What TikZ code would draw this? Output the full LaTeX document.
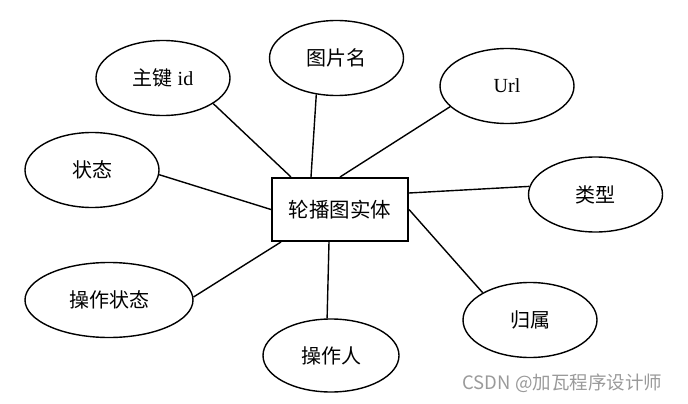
\documentclass[tikz,border=0pt]{standalone}
\usepackage{fontspec}
\setmainfont{Liberation Serif}
\newfontfamily\cjk{Noto Sans CJK SC}
\usetikzlibrary{shapes.geometric,calc}
\definecolor{ink}{HTML}{000000}
\definecolor{markC}{HTML}{9A9A9A}
\tikzset{
  ent/.style={draw=ink,line width=2pt,minimum width=136pt,minimum height=63pt,
    font=\fontsize{20.5}{22}\selectfont\cjk,inner sep=0pt},
  attr/.style={ellipse,draw=ink,line width=1.4pt,minimum width=134pt,minimum height=75pt,
    font=\fontsize{20}{22}\selectfont,inner sep=0pt},
  link/.style={draw=ink,line width=1.4pt},
  wmark/.style={font=\fontsize{18.5}{20}\selectfont\cjk,text=markC,anchor=west}}

\begin{document}
\begin{tikzpicture}[x=1pt,y=-1pt]
\useasboundingbox (0,0) rectangle (688,404);
\node[ent] (lbt) at (340,209.5) {轮播图实体};
\node[attr] (zj) at (163,78) {{\cjk 主键} id};
\node[attr] (tpm) at (336.5,58) {\cjk 图片名};
\node[attr] (url) at (507,86) {Url};
\node[attr] (zt) at (92,170) {\cjk 状态};
\node[attr] (lx) at (595.5,194.5) {\cjk 类型};
\node[attr,minimum width=168pt] (czzt) at (109,300) {\cjk 操作状态};
\node[attr,minimum width=136pt,minimum height=73pt] (czr) at (331,355.5) {\cjk 操作人};
\node[attr] (gs) at (530,320) {\cjk 归属};
\draw[link] (zj.-27) -- ($(lbt.north west)+(20,0)$);
\draw[link] (tpm.-119.5) -- ($(lbt.north west)+(40,0)$);
\draw[link] (url.-160.4) -- (lbt.north);
\draw[link] (zt.-4) -- (lbt.west);
\draw[link] (lx.173.7) -- ($(lbt.east)+(0,-16.5)$);
\draw[link] (czzt.2) -- ($(lbt.south west)+(10,0)$);
\draw[link] (czr.96) -- ($(lbt.south)+(-11,0)$);
\draw[link] (gs.150) -- (lbt.east);
\node[wmark] (wm) at (459,383) {CSDN @加瓦程序设计师};
\end{tikzpicture}
\end{document}
